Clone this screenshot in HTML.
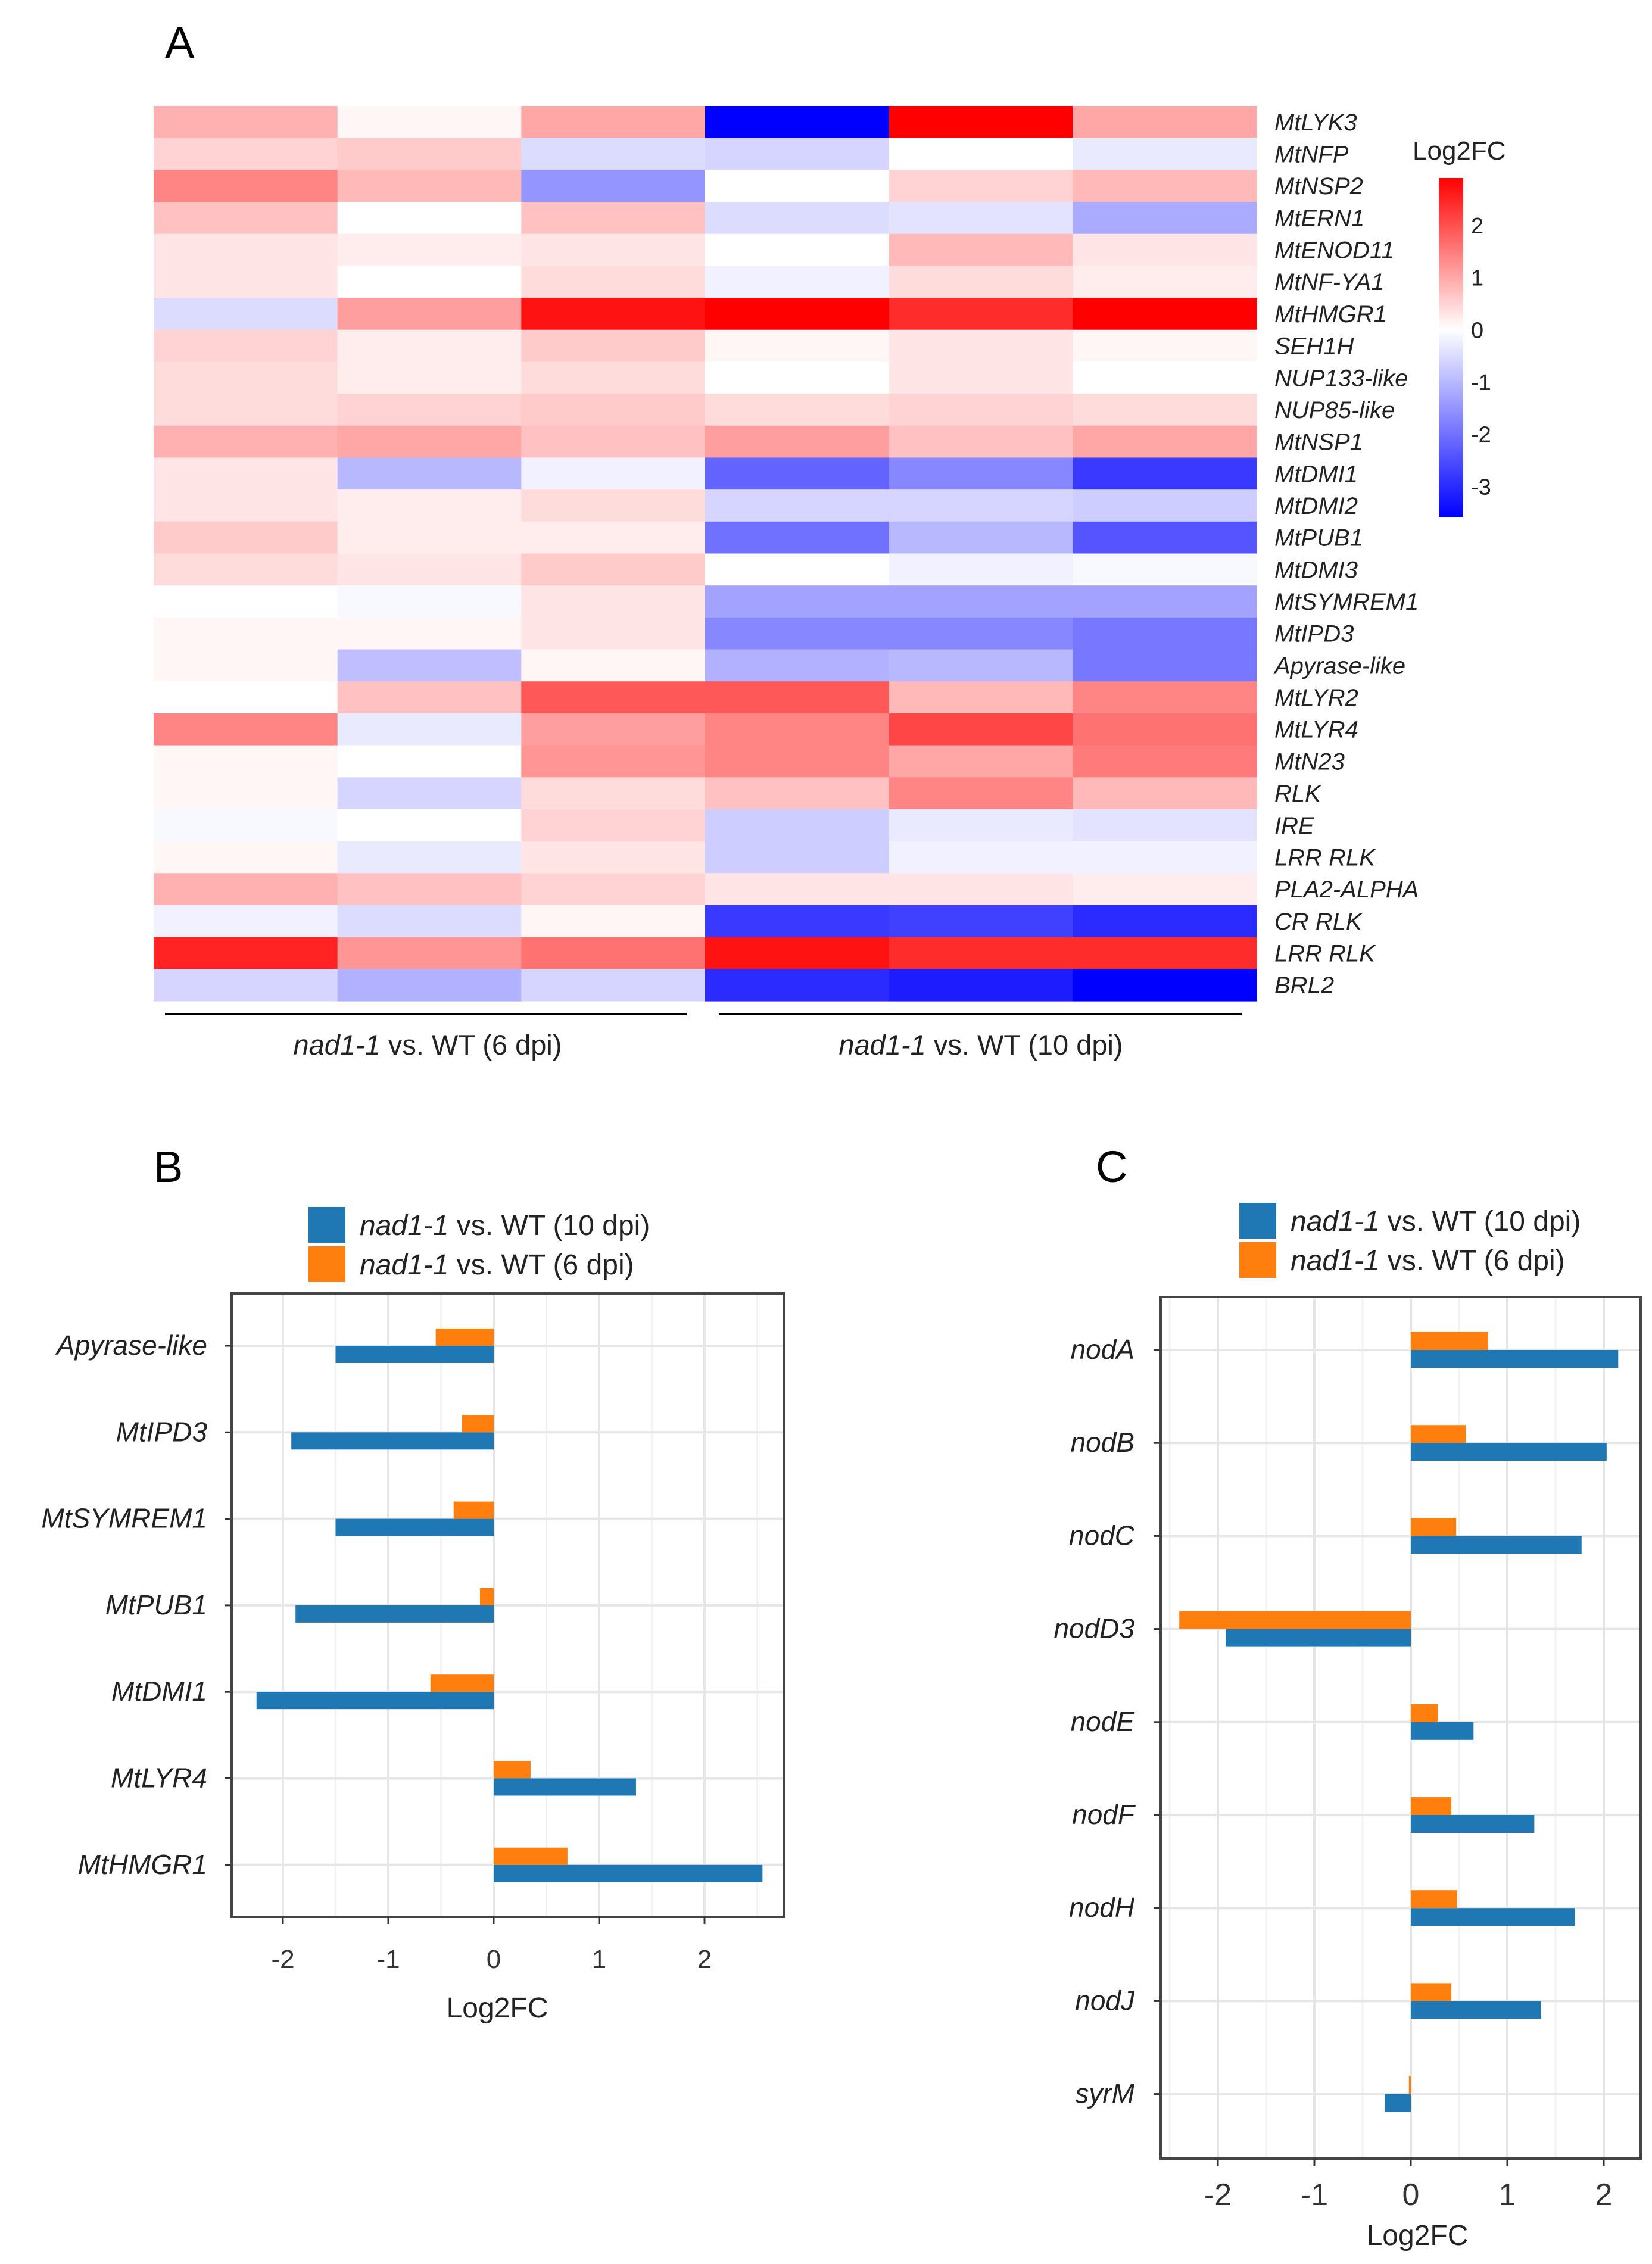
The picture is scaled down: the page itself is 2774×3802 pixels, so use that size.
<!DOCTYPE html>
<html><head><meta charset="utf-8"><style>
body{margin:0;background:#fff;}
svg{display:block;font-family:"Liberation Sans",sans-serif;}
</style></head><body>
<svg id="fig" width="2774" height="3802" viewBox="0 0 2774 3802" xmlns="http://www.w3.org/2000/svg">
<rect width="2774" height="3802" fill="#fff"/>
<g id="heat"></g>
<g id="pb"></g>
<g id="pc"></g>
</svg>
<script>
const genes=["MtLYK3","MtNFP","MtNSP2","MtERN1","MtENOD11","MtNF-YA1","MtHMGR1","SEH1H","NUP133-like","NUP85-like","MtNSP1","MtDMI1","MtDMI2","MtPUB1","MtDMI3","MtSYMREM1","MtIPD3","Apyrase-like","MtLYR2","MtLYR4","MtN23","RLK","IRE","LRR RLK","PLA2-ALPHA","CR RLK","LRR RLK","BRL2"];
const heatVals=[
[0.9,0.1,1.0,-3.6,2.9,1.0],[0.5,0.6,-0.5,-0.6,0,-0.3],[1.4,0.8,-1.5,0,0.5,0.8],[0.7,0,0.7,-0.5,-0.4,-1.2],
[0.3,0.2,0.3,0,0.8,0.3],[0.3,0,0.4,-0.2,0.4,0.2],[-0.5,1.1,2.7,2.9,2.4,2.9],[0.5,0.2,0.6,0.1,0.3,0.1],
[0.4,0.2,0.4,0,0.3,0],[0.4,0.5,0.6,0.4,0.5,0.4],[0.9,1.0,0.7,1.1,0.7,1.0],[0.3,-1.0,-0.2,-2.2,-1.7,-2.8],
[0.3,0.2,0.4,-0.6,-0.6,-0.7],[0.6,0.2,0.2,-2.0,-1.0,-2.4],[0.4,0.3,0.6,0,-0.2,-0.1],[0,-0.1,0.3,-1.3,-1.3,-1.3],
[0.1,0.1,0.3,-1.7,-1.7,-1.9],[0.1,-0.9,0.1,-1.1,-1.0,-1.9],[0,0.7,1.9,1.9,0.8,1.4],[1.4,-0.3,1.1,1.4,2.1,1.6],
[0.1,0,1.2,1.4,1.0,1.5],[0.1,-0.6,0.4,0.7,1.4,0.8],[-0.1,0,0.5,-0.7,-0.3,-0.4],[0.1,-0.3,0.3,-0.7,-0.2,-0.2],
[0.9,0.7,0.5,0.3,0.3,0.2],[-0.2,-0.5,0.1,-2.8,-2.7,-3.0],[2.5,1.2,1.6,2.7,2.4,2.4],[-0.6,-1.1,-0.6,-3.0,-3.2,-3.6]];
const cbTicks=[2,1,0,-1,-2,-3];
const bCats=["Apyrase-like","MtIPD3","MtSYMREM1","MtPUB1","MtDMI1","MtLYR4","MtHMGR1"];
const b10=[-1.5,-1.92,-1.5,-1.88,-2.25,1.35,2.55];
const b6=[-0.55,-0.3,-0.38,-0.13,-0.6,0.35,0.7];
const cCats=["nodA","nodB","nodC","nodD3","nodE","nodF","nodH","nodJ","syrM"];
const c10=[2.15,2.03,1.77,-1.92,0.65,1.28,1.7,1.35,-0.27];
const c6=[0.8,0.57,0.47,-2.4,0.28,0.42,0.48,0.42,-0.02];
const xTicks=[-2,-1,0,1,2];

const NS="http://www.w3.org/2000/svg";
function mk(p,t,a,txt){const e=document.createElementNS(NS,t);for(const k in a)e.setAttribute(k,a[k]);if(txt!==undefined)e.textContent=txt;p.appendChild(e);return e;}
const RMAX=2.9,BMIN=-3.6;
function col(v){let r,g,b;if(v>=0){const t=Math.min(v/RMAX,1);r=255;g=b=Math.round(255*(1-t));}else{const t=Math.min(v/BMIN,1);b=255;r=g=Math.round(255*(1-t));}return `rgb(${r},${g},${b})`;}

const H=document.getElementById('heat');
const hx0=258,hx1=2110,hy0=178,hy1=1681;
const cw=(hx1-hx0)/6,rh=(hy1-hy0)/genes.length;
mk(H,'text',{x:277,y:97,'font-size':74,fill:'#000'},'A');
genes.forEach((g,i)=>{
  heatVals[i].forEach((v,j)=>{
    const r=mk(H,'rect',{x:hx0+j*cw,y:hy0+i*rh,width:cw+0.6,height:rh+0.6,fill:col(v)});
    
    
  });
  const t=mk(H,'text',{x:2140,y:hy0+(i+0.5)*rh+14,'font-size':40,'font-style':'italic',fill:'#222'},g);
  
  
});
const cbx=2416,cbw=41,cby0=299,cby1=869;
const grad=mk(document.getElementById('fig'),'defs',{});
const lg=mk(grad,'linearGradient',{id:'cb',x1:0,y1:0,x2:0,y2:1});
const per=(cby1-cby0)/(RMAX-BMIN);
mk(lg,'stop',{offset:0,'stop-color':col(RMAX)});
mk(lg,'stop',{offset:(RMAX/(RMAX-BMIN)),'stop-color':'#fff'});
mk(lg,'stop',{offset:1,'stop-color':col(BMIN)});
const cb=mk(H,'rect',{x:cbx,y:cby0,width:cbw,height:cby1-cby0,fill:'url(#cb)'});

mk(H,'text',{x:2372,y:268,'font-size':44,fill:'#222'},'Log2FC');
cbTicks.forEach(v=>{const y=cby0+(RMAX-v)*per;
  const t=mk(H,'text',{x:2470,y:y+14,'font-size':38,fill:'#222'},String(v));
  
  });
mk(H,'line',{x1:277,x2:1153,y1:1703,y2:1703,stroke:'#000','stroke-width':4});
mk(H,'line',{x1:1207,x2:2085,y1:1703,y2:1703,stroke:'#000','stroke-width':4});
[[718,'6 dpi'],[1647,'10 dpi']].forEach(([cx,d])=>{
  const t=mk(H,'text',{x:cx,y:1771,'font-size':47,'text-anchor':'middle',fill:'#222'});
  mk(t,'tspan',{'font-style':'italic'},'nad1-1');
  mk(t,'tspan',{},' vs. WT ('+d+')');
  
});

function barPanel(G,o){
  const {x0,x1,y0,y1,zero,unit,cats,v10,v6,cy0,dy,bh,labelX,letter,letterX,legX,legY}=o;
  const X=v=>zero+v*unit;
  mk(G,'text',{x:letterX,y:1985,'font-size':74,fill:'#000'},letter);
  const l1=mk(G,'rect',{x:legX,y:legY,width:62,height:60,fill:'#1f78b4'});
  const l2=mk(G,'rect',{x:legX,y:legY+66,width:62,height:60,fill:'#ff7f0e'});
  [['10 dpi',0],['6 dpi',66]].forEach(([d,off])=>{
    const t=mk(G,'text',{x:legX+86,y:legY+off+47,'font-size':48,fill:'#222'});
    mk(t,'tspan',{'font-style':'italic'},'nad1-1');mk(t,'tspan',{},' vs. WT ('+d+')');
    
    
  });
  for(let v=-3;v<=3;v+=0.5){const x=X(v);if(x<=x0||x>=x1)continue;
    const l=mk(G,'line',{x1:x,x2:x,y1:y0,y2:y1,stroke:Number.isInteger(v)?'#e6e6e6':'#f2f2f2','stroke-width':Number.isInteger(v)?4:3});
    }
  cats.forEach((c,i)=>{const y=cy0+i*dy;
    const l=mk(G,'line',{x1:x0,x2:x1,y1:y,y2:y,stroke:'#e6e6e6','stroke-width':4});
    const tk=mk(G,'line',{x1:x0-12,x2:x0,y1:y,y2:y,stroke:'#333','stroke-width':3});
    const b=mk(G,'rect',{x:Math.min(X(0),X(v10[i])),y:y,width:Math.abs(X(v10[i])-X(0)),height:bh,fill:'#1f78b4'});
    
    
    const a=mk(G,'rect',{x:Math.min(X(0),X(v6[i])),y:y-bh,width:Math.max(Math.abs(X(v6[i])-X(0)),2),height:bh,fill:'#ff7f0e'});
    
    
    const t=mk(G,'text',{x:labelX,y:y+15,'font-size':46,'font-style':'italic','text-anchor':'end',fill:'#222'},c);
    
    
  });
  const fr=mk(G,'rect',{x:x0,y:y0,width:x1-x0,height:y1-y0,fill:'none',stroke:'#444','stroke-width':4});
  xTicks.forEach(v=>{const x=X(v);
    mk(G,'line',{x1:x,x2:x,y1:y1,y2:y1+12,stroke:'#333','stroke-width':3});
    const t=mk(G,'text',{x:x,y:o.tickY,'font-size':o.tickFs,'text-anchor':'middle',fill:'#333'},String(v));
    
    });
  mk(G,'text',{x:o.titleX,y:o.titleY,'font-size':48,'text-anchor':'middle',fill:'#222'},'Log2FC');
}
barPanel(document.getElementById('pb'),{x0:389,x1:1316,y0:2172,y1:3219,zero:829,unit:177,cats:bCats,v10:b10,v6:b6,cy0:2260,dy:145.3,bh:29,labelX:348,letter:'B',letterX:258,legX:518,legY:2027,tickY:3305,tickFs:44,titleX:835,titleY:3388});
barPanel(document.getElementById('pc'),{x0:1949,x1:2755,y0:2178,y1:3625,zero:2369,unit:162,cats:cCats,v10:c10,v6:c6,cy0:2267,dy:156.2,bh:30,labelX:1905,letter:'C',letterX:1840,legX:2081,legY:2020,tickY:3703,tickFs:52,titleX:2380,titleY:3770});
</script>
</body></html>
